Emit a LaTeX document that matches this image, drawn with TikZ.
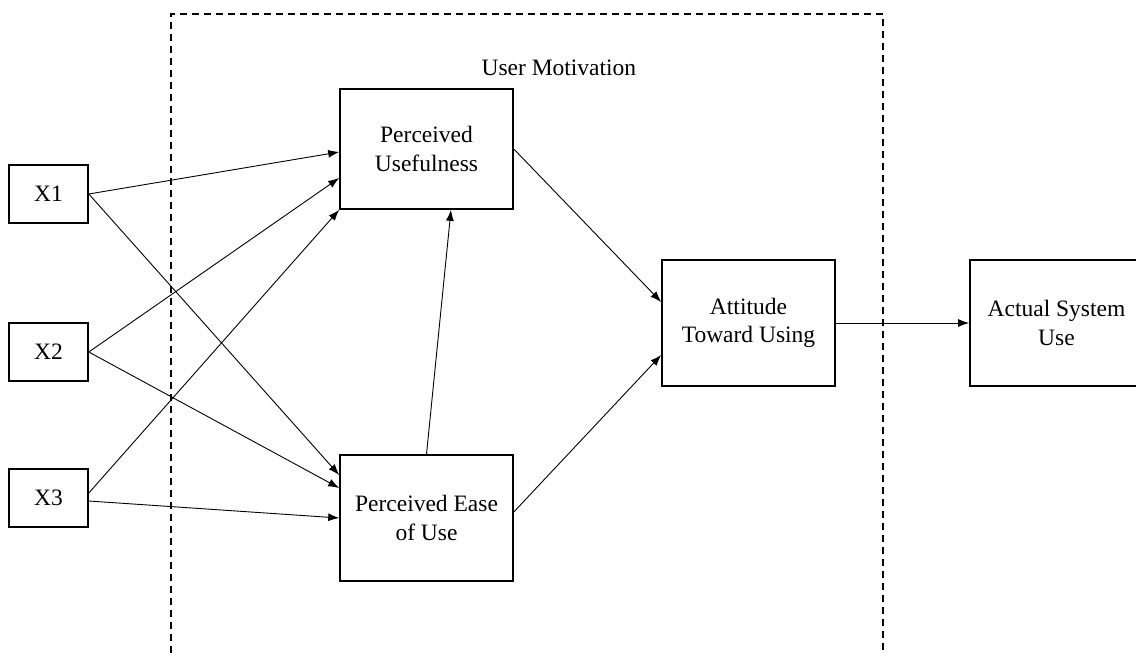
\documentclass[tikz,border=0pt]{standalone}
\usepackage{fontspec}
\setmainfont{Liberation Serif}
\usetikzlibrary{arrows.meta}
\begin{document}
\begin{tikzpicture}[x=1pt,y=-1pt,
  box/.style={draw,line width=1.6pt,fill=white,align=center,inner sep=0pt,
    font=\fontsize{23.5}{28.5}\selectfont},
  xbox/.style={box,minimum width=79pt,minimum height=58pt},
  bigbox/.style={box,minimum width=173pt,minimum height=126pt},
  conn/.style={line width=0.9pt,-{Latex[length=11pt,width=8pt]}},
  frame/.style={line width=1.3pt,dash pattern=on 7pt off 5pt}]
\useasboundingbox (0,0) rectangle (1136,653);
\clip (0,0) rectangle (1136,653);
\draw[frame] (171,653) -- (171,14) -- (883,14) -- (883,653);
\node[anchor=base west,font=\fontsize{23.5}{28.5}\selectfont] (um) at (478,75) {User Motivation};
\node[xbox] (x1) at (48.5,194) {X1};
\node[xbox] (x2) at (48.5,352) {X2};
\node[xbox] (x3) at (48.5,498) {X3};
\node[bigbox,minimum height=120pt] (pu) at (426.5,149) {Perceived\\Usefulness};
\node[bigbox] (peou) at (426.5,518) {Perceived Ease\\of Use};
\node[bigbox] (atu) at (748.5,323) {Attitude\\Toward Using};
\node[bigbox,minimum width=180pt] (asu) at (1060,323) {\hspace*{-7pt}Actual System\\\hspace*{-7pt}Use};
\draw[conn] (x1.east) -- ([yshift=-3pt]pu.west);
\draw[conn] (x2.east) -- ([yshift=-29pt]pu.west);
\draw[conn] ([yshift=5pt]x3.east) -- (pu.south west);
\draw[conn] (x1.east) -- ([yshift=43pt]peou.west);
\draw[conn] (x2.east) -- ([yshift=30pt]peou.west);
\draw[conn] ([yshift=-3pt]x3.east) -- (peou.west);
\draw[conn] (peou.north) -- ([xshift=24.5pt]pu.south);
\draw[conn] (pu.east) -- ([yshift=21pt]atu.west);
\draw[conn] ([yshift=6pt]peou.east) -- ([yshift=-32pt]atu.west);
\draw[conn] (atu.east) -- (asu.west);
\end{tikzpicture}
\end{document}
